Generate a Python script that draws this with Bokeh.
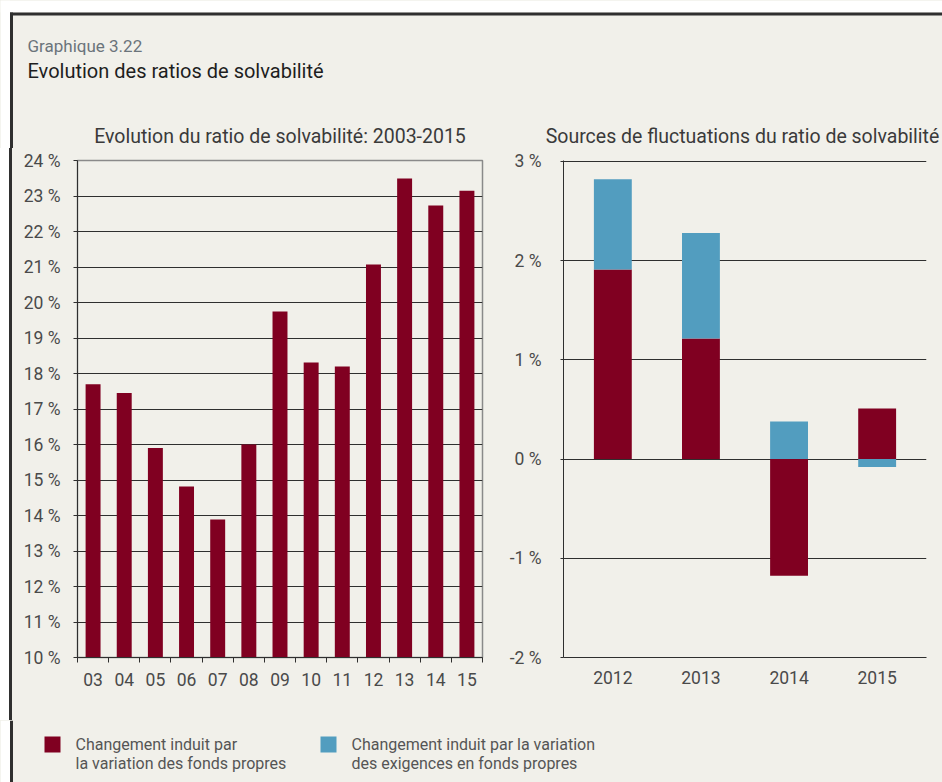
import numpy as np
from bokeh.plotting import figure
from bokeh.layouts import column, row
from bokeh.models import Range1d, FixedTicker, Spacer
from bokeh.core.properties import value
from bokeh.embed import file_html
from bokeh.resources import INLINE

# ---------------- data ----------------
left_cats = ["03", "04", "05", "06", "07", "08", "09", "10", "11", "12", "13", "14", "15"]
ratio = [17.7, 17.45, 15.9, 14.82, 13.89, 16.0, 19.75, 18.31, 18.2, 21.07, 23.49, 22.73, 23.15]
left_ticks = [10, 11, 12, 13, 14, 15, 16, 17, 18, 19, 20, 21, 22, 23, 24]

right_cats = ["2012", "2013", "2014", "2015"]
fonds = [1.91, 1.215, -1.175, 0.51]        # Changement induit par la variation des fonds propres
exig = [0.91, 1.065, 0.38, -0.08]          # Changement induit par la variation des exigences en fonds propres
right_ticks = [-2, -1, 0, 1, 2, 3]

title_small = "Graphique 3.22"
title_main = "Evolution des ratios de solvabilité"
left_title = "Evolution du ratio de solvabilité: 2003-2015"
right_title = "Sources de fluctuations du ratio de solvabilité"
legend_1 = ["Changement induit par", "la variation des fonds propres"]
legend_2 = ["Changement induit par la variation", "des exigences en fonds propres"]

# ---------------- style ----------------
BG = "#f1f0ea"
RED = "#800021"
BLUE = "#529dbf"
DARK = "#2f2f2f"
FONT = value("Roboto")
TICK_COLOR = "#4a4a4a"
W = 942
HEADER_H = 148
ROW_H = 572
LEGEND_H = 62
EDGE_W = 12
BX0, BX1 = 9.5, 12.5      # left border band
BY0, BY1 = 12, 15         # top border band


def helper_fig(w, h, xr, yr):
    f = figure(width=w, height=h, x_range=xr, y_range=yr, x_axis_type=None, y_axis_type=None,
               toolbar_location=None, output_backend="svg", min_border=0)
    f.background_fill_color = BG
    f.border_fill_color = BG
    f.outline_line_color = None
    f.xgrid.visible = False
    f.ygrid.visible = False
    return f


# ---------------- header ----------------
hdr = helper_fig(W, HEADER_H, Range1d(0, W), Range1d(HEADER_H, 0))
hdr.quad(left=[0], right=[W], top=[0], bottom=[BY0], fill_color="white", line_color=None)
hdr.quad(left=[0], right=[BX0], top=[0], bottom=[HEADER_H], fill_color="white", line_color=None)
hdr.quad(left=[BX0], right=[W], top=[BY0], bottom=[BY1], fill_color=DARK, line_color=None)
hdr.quad(left=[BX0], right=[BX1], top=[BY0], bottom=[HEADER_H], fill_color=DARK, line_color=None)
hdr.text(x=[27], y=[45], text=[title_small], text_font=FONT, text_font_size="17px",
         text_color="#6b747b", text_baseline="alphabetic")
hdr.text(x=[27], y=[70], text=[title_main], text_font=FONT, text_font_size="20px",
         text_color="#1e1e1e", text_baseline="alphabetic")
hdr.text(x=[279.5, 742], y=[136, 136], text=[left_title, right_title], text_font=FONT,
         text_font_size="19.5px", text_color="#3a3a3a", text_baseline="alphabetic",
         text_align="center")

# ---------------- left edge (plain spacer painted with the frame border) ----------------
edge = Spacer(width=EDGE_W, height=ROW_H,
              styles={"background": f"linear-gradient(90deg, #ffffff {BX0}px, {DARK} {BX0}px)"})

# ---------------- left chart ----------------
n_left = len(left_cats)
xl = list(range(n_left))
pl = figure(width=494, height=ROW_H, x_range=Range1d(-0.5, n_left - 0.5), y_range=Range1d(10, 24),
            toolbar_location=None, output_backend="svg",
            min_border_left=65, min_border_right=24, min_border_top=12, min_border_bottom=63)
pl.background_fill_color = BG
pl.border_fill_color = BG
pl.outline_line_color = "#8a8a8a"
pl.outline_line_width = 1.5
pl.vbar(x=xl, bottom=10, top=ratio, width=0.48, fill_color=RED, line_color=None)

pl.xaxis.ticker = FixedTicker(ticks=xl, minor_ticks=[i - 0.5 for i in range(n_left + 1)])
pl.xaxis.major_label_overrides = {i: c for i, c in enumerate(left_cats)}
pl.xaxis.major_tick_out = 0
pl.xaxis.major_tick_in = 0
pl.xaxis.minor_tick_out = 5
pl.xaxis.minor_tick_in = 0
pl.xaxis.minor_tick_line_color = DARK
pl.xaxis.axis_line_color = DARK
pl.xaxis.major_label_standoff = 10
pl.xaxis.major_label_text_font = "Roboto"
pl.xaxis.major_label_text_font_size = "17.5px"
pl.xaxis.major_label_text_color = TICK_COLOR

pl.yaxis.ticker = FixedTicker(ticks=left_ticks)
pl.yaxis.major_label_overrides = {t: f"{t} %" for t in left_ticks}
pl.yaxis.major_tick_out = 4
pl.yaxis.major_tick_in = 0
pl.yaxis.major_tick_line_color = DARK
pl.yaxis.minor_tick_line_color = None
pl.yaxis.axis_line_color = DARK
pl.yaxis.major_label_standoff = 13
pl.yaxis.major_label_text_font = "Roboto"
pl.yaxis.major_label_text_font_size = "17.5px"
pl.yaxis.major_label_text_color = TICK_COLOR

pl.xgrid.visible = False
pl.ygrid.ticker = FixedTicker(ticks=left_ticks)
pl.ygrid.grid_line_color = DARK
pl.ygrid.grid_line_width = 1

# ---------------- right chart ----------------
fonds_a = np.array(fonds)
exig_a = np.array(exig)
red_bottom = np.zeros_like(fonds_a)
red_top = fonds_a
blue_bottom = np.where(np.sign(exig_a) == np.sign(fonds_a), fonds_a, 0.0)
blue_top = blue_bottom + exig_a
xr = list(range(len(right_cats)))

pr = figure(width=436, height=ROW_H, x_range=Range1d(-0.56, len(right_cats) - 0.44),
            y_range=Range1d(-2, 3.01),
            toolbar_location=None, output_backend="svg",
            min_border_left=52, min_border_right=16, min_border_top=11, min_border_bottom=62)
pr.background_fill_color = BG
pr.border_fill_color = BG
pr.outline_line_color = None
pr.vbar(x=xr, bottom=red_bottom, top=red_top, width=0.43, fill_color=RED, line_color=None)
pr.vbar(x=xr, bottom=blue_bottom, top=blue_top, width=0.43, fill_color=BLUE, line_color=None)

pr.xaxis.ticker = FixedTicker(ticks=xr)
pr.xaxis.major_label_overrides = {i: c for i, c in enumerate(right_cats)}
pr.xaxis.major_tick_out = 0
pr.xaxis.major_tick_in = 0
pr.xaxis.minor_tick_line_color = None
pr.xaxis.axis_line_color = DARK
pr.xaxis.major_label_standoff = 13
pr.xaxis.major_label_text_font = "Roboto"
pr.xaxis.major_label_text_font_size = "17.5px"
pr.xaxis.major_label_text_color = TICK_COLOR

pr.yaxis.ticker = FixedTicker(ticks=right_ticks)
pr.yaxis.major_label_overrides = {t: f"{t} %" for t in right_ticks}
pr.yaxis.major_tick_out = 3
pr.yaxis.major_tick_in = 0
pr.yaxis.major_tick_line_color = DARK
pr.yaxis.minor_tick_line_color = None
pr.yaxis.axis_line_color = DARK
pr.yaxis.major_label_standoff = 19
pr.yaxis.major_label_text_font = "Roboto"
pr.yaxis.major_label_text_font_size = "17.5px"
pr.yaxis.major_label_text_color = TICK_COLOR

pr.xgrid.visible = False
pr.ygrid.ticker = FixedTicker(ticks=right_ticks)
pr.ygrid.grid_line_color = DARK
pr.ygrid.grid_line_width = 1

# ---------------- legend ----------------
lg = helper_fig(W, LEGEND_H, Range1d(0, W), Range1d(LEGEND_H, 0))
lg.quad(left=[0], right=[BX0], top=[0], bottom=[LEGEND_H], fill_color="white", line_color=None)
lg.quad(left=[BX0], right=[BX1], top=[0], bottom=[LEGEND_H], fill_color=DARK, line_color=None)
lg.quad(left=[44, 320], right=[60, 336], top=[16, 16], bottom=[32, 32],
        fill_color=[RED, BLUE], line_color=None)
lg.text(x=[75, 75, 351, 351], y=[24, 43, 24, 43],
        text=[legend_1[0], legend_1[1], legend_2[0], legend_2[1]],
        text_font=FONT, text_font_size="16px", text_color="#555555", text_baseline="middle")

layout = column(hdr, row(edge, pl, pr, styles={"background-color": BG}),
                lg, styles={"background-color": BG})

open("out.html", "w").write(file_html(layout, INLINE))
